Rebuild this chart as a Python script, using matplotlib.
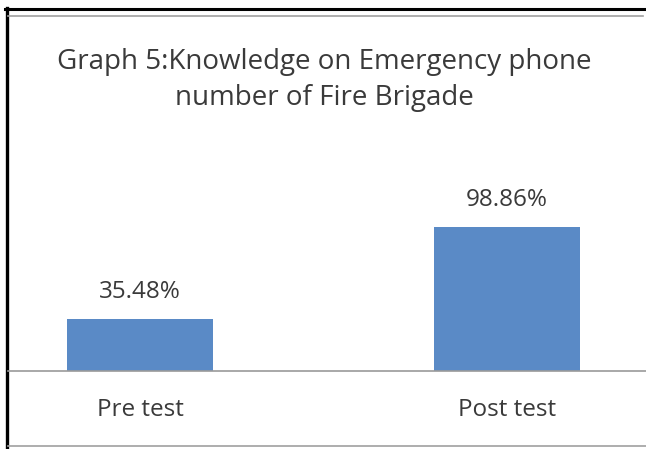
import matplotlib.pyplot as plt
from matplotlib.lines import Line2D

categories = ['Pre test', 'Post test']
values = [35.48, 98.86]
value_labels = ['35.48%', '98.86%']
title = 'Graph 5:Knowledge on Emergency phone\nnumber of Fire Brigade'

W, H = 646, 449
fig = plt.figure(figsize=(W / 100, H / 100), dpi=100)
fig.patch.set_facecolor('white')


def fx(px):
    return px / W


def fy(py):
    return 1 - py / H


# plot area: baseline at y=371, spans x=8..646
ax = fig.add_axes([fx(8), fy(371), fx(646) - fx(8), fy(15) - fy(371)])
ax.bar(range(len(categories)), values, width=0.398, color='#5a8ac6')
ax.set_xlim(-0.3597, 1.3787)
ax.set_ylim(0, 244)
ax.axis('off')
ax.set_facecolor('none')

font = 'Open Sans'
txt = '#3a3a3a'
for i, (v, lab) in enumerate(zip(values, value_labels)):
    ax.annotate(lab, (i, v), xytext=(0, 27), textcoords='offset pixels',
                ha='center', va='center', fontsize=17.5, color=txt, family=font)
for i, c in enumerate(categories):
    ax.annotate(c, (i, 0), xytext=(0, -39), textcoords='offset pixels',
                ha='center', va='center', fontsize=17.5, color=txt, family=font)

fig.text(fx(324), fy(80), title, ha='center', va='center', fontsize=20,
         color=txt, family=font, linespacing=1.42)

# frame lines
fig.add_artist(Line2D([fx(5), fx(646)], [fy(9), fy(9)], color='black', lw=2.2))
fig.add_artist(Line2D([fx(6.5), fx(6.5)], [fy(8), fy(449)], color='black', lw=2.4))
fig.add_artist(Line2D([fx(8), fx(643)], [fy(15.5), fy(15.5)], color='#a0a0a0', lw=1.2))
fig.add_artist(Line2D([fx(8), fx(646)], [fy(371), fy(371)], color='#9a9a9a', lw=1.2))
fig.add_artist(Line2D([fx(8), fx(646)], [fy(446), fy(446)], color='#a0a0a0', lw=1.2))

plt.savefig('out.png', dpi=100)
